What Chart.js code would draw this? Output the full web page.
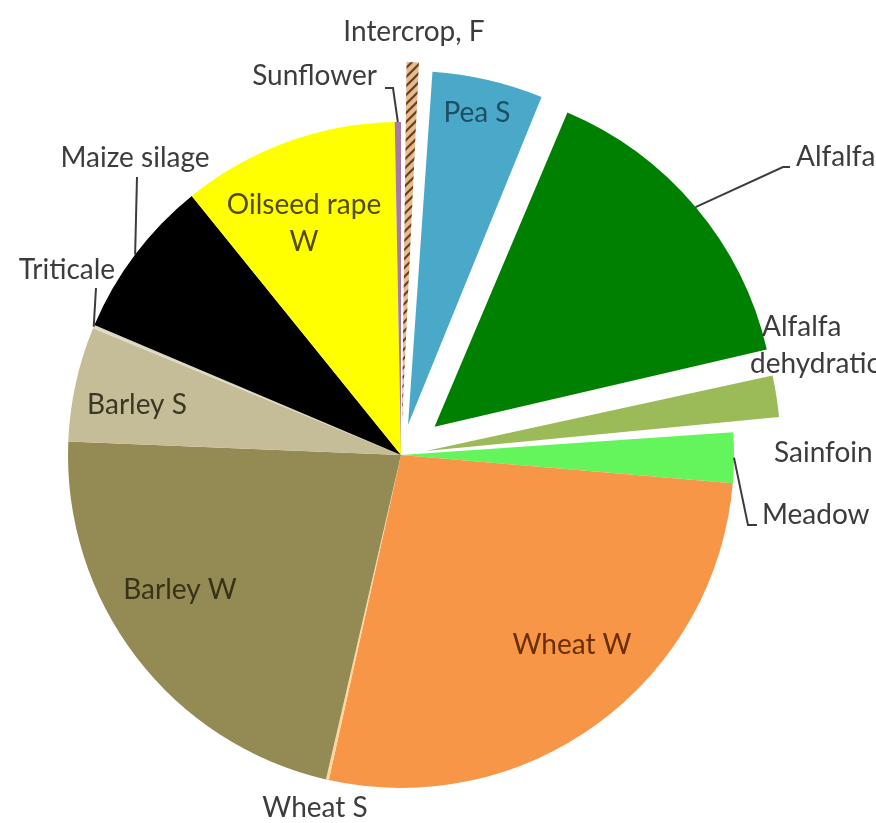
<!DOCTYPE html>
<html>
<head>
<meta charset="utf-8">
<title>Crop areas</title>
<script src="https://cdn.jsdelivr.net/npm/chart.js@4.4.1/dist/chart.umd.min.js"></script>
<style>
  html, body { margin: 0; padding: 0; background: #fff; }
  #wrap { width: 876px; height: 823px; }
</style>
</head>
<body>
<div id="wrap"><canvas id="pie" width="876" height="823"></canvas></div>
<script>
// crop shares (% of area), clockwise from 12 o'clock
const crops = ['Intercrop, F', 'Pea S', 'Alfalfa', 'Alfalfa dehydration', 'Sainfoin', 'Meadow',
  'Wheat W', 'Wheat S', 'Barley W', 'Barley S', 'Triticale', 'Maize silage', 'Oilseed rape W', 'Sunflower'];
const shares = [0.95, 5.35, 15.1, 2.2, 0.28, 2.44, 27.1, 0.14, 22.0, 5.56, 0.17, 7.8, 10.5, 0.3];

// how far (px) each slice is pulled out of the pie
const explode = [60, 52, 52, 47, 45, 0, 0, 0, 0, 0, 0, 0, 0, 0];

function hatch() {
  const c = document.createElement('canvas');
  c.width = 9; c.height = 9;
  const g = c.getContext('2d');
  g.fillStyle = '#e9bc90';
  g.fillRect(0, 0, 9, 9);
  g.strokeStyle = '#5e3819';
  g.lineWidth = 2;
  g.beginPath();
  g.moveTo(0, 9); g.lineTo(9, 0);
  g.moveTo(-4.5, 4.5); g.lineTo(4.5, -4.5);
  g.moveTo(4.5, 13.5); g.lineTo(13.5, 4.5);
  g.stroke();
  return g.createPattern(c, 'repeat');
}

const colors = [hatch(), '#4aa9c9', '#008000', '#9bbb59', '#eef6dc', '#64f55c',
  '#f79646', '#fbd79a', '#948a54', '#c4bd97', '#ddd9c3', '#000000', '#ffff00', '#a57ba6'];

// Chart.js moves an offset arc by offset/4 * (2 - sin(circumference))
const total = shares.reduce((a, b) => a + b, 0);
const offsets = explode.map((d, i) => {
  const circ = shares[i] / total * 2 * Math.PI;
  return d ? 4 * d / (2 - Math.sin(Math.min(Math.PI, circ))) : 0;
});

const textGrey = '#3c3c3c';
const font = 'Lato, "Open Sans", sans-serif';

const labels = [
  { lines: ['Intercrop, F'], x: 414, y: 32, align: 'center' },
  { lines: ['Sunflower'], x: 377, y: 76, align: 'right' },
  { lines: ['Pea S'], x: 477, y: 113, align: 'center', color: '#1d4f63' },
  { lines: ['Alfalfa'], x: 796, y: 157, align: 'left' },
  { lines: ['Alfalfa'], x: 762, y: 327, align: 'left' },
  { lines: ['dehydration'], x: 750, y: 364, align: 'left' },
  { lines: ['Sainfoin'], x: 774, y: 453, align: 'left' },
  { lines: ['Meadow'], x: 762, y: 515, align: 'left' },
  { lines: ['Wheat W'], x: 572, y: 645, align: 'center', color: '#6a2e05' },
  { lines: ['Wheat S'], x: 315, y: 808, align: 'center' },
  { lines: ['Barley W'], x: 180, y: 590, align: 'center', color: '#363318' },
  { lines: ['Barley S'], x: 137, y: 405, align: 'center', color: '#3a3722' },
  { lines: ['Triticale'], x: 67, y: 270, align: 'center' },
  { lines: ['Maize silage'], x: 135, y: 158, align: 'center' },
  { lines: ['Oilseed rape', 'W'], x: 304, y: 205, align: 'center', color: '#514c00', gap: 37 },
];

// leader lines: elbow points, then the slice rim
const leaders = [
  { i: 13, path: [[385, 88], [393, 88]] },
  { i: 2, path: [[790, 167], [783, 167]] },
  { i: 11, path: [[137, 177]] },
  { i: 10, path: [[96, 288]] },
  { i: 5, path: [[757, 525], [748, 525]] },
];

function rim(chart, i) {
  const arc = chart.getDatasetMeta(0).data[i];
  const p = arc.getProps(['x', 'y', 'startAngle', 'endAngle', 'outerRadius']);
  const mid = (p.startAngle + p.endAngle) / 2;
  const r = p.outerRadius + explode[i];
  return [p.x + Math.cos(mid) * r, p.y + Math.sin(mid) * r];
}

const annotate = {
  id: 'annotate',
  afterDatasetsDraw(chart) {
    const ctx = chart.ctx;
    ctx.save();
    ctx.strokeStyle = textGrey;
    ctx.lineWidth = 2;
    leaders.forEach((l) => {
      const end = rim(chart, l.i);
      ctx.beginPath();
      ctx.moveTo(l.path[0][0], l.path[0][1]);
      l.path.slice(1).forEach((pt) => ctx.lineTo(pt[0], pt[1]));
      ctx.lineTo(end[0], end[1]);
      ctx.stroke();
    });
    ctx.font = '28px ' + font;
    ctx.textBaseline = 'middle';
    labels.forEach((lb) => {
      ctx.fillStyle = lb.color || textGrey;
      ctx.textAlign = lb.align;
      lb.lines.forEach((t, k) => ctx.fillText(t, lb.x, lb.y + k * (lb.gap || 30)));
    });
    ctx.restore();
  },
};

new Chart(document.getElementById('pie'), {
  type: 'pie',
  data: {
    labels: crops,
    datasets: [{
      data: shares,
      backgroundColor: colors,
      offset: offsets,
      borderWidth: 0,
      hoverOffset: 0,
    }],
  },
  options: {
    responsive: false,
    animation: false,
    events: [],
    radius: 333,
    layout: { padding: { left: 0, right: 74, top: 87, bottom: 0 } },
    plugins: {
      legend: { display: false },
      tooltip: { enabled: false },
    },
  },
  plugins: [annotate],
});
</script>
</body>
</html>
